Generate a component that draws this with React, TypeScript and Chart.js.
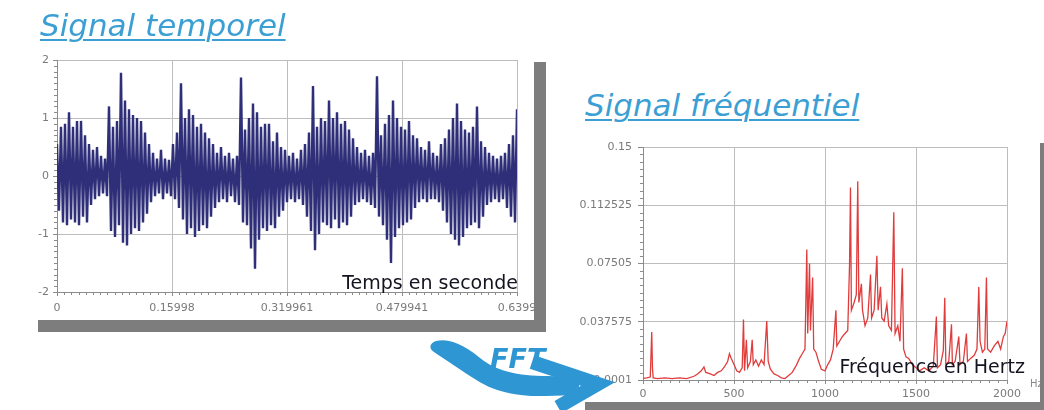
import React, { useEffect, useRef } from "react";
import { Chart, registerables } from "chart.js";

Chart.register(...registerables);

// ---------- Signal temporel (time domain) ----------
const TIME_END = 0.6399;
const timeTicks = [0, 0.15998, 0.319961, 0.479941, 0.6399];
const amplitudeTicks = [-2, -1, 0, 1, 2];
// positive peaks of the oscillation, read left to right
const upperEnvelope = [
  0.55, 0.85, 0.9, 1.1, 0.85, 0.95, 0.95, 0.7, 0.55, 0.45,
  0.5, 0.35, 0.3, 1.2, 0.85, 0.95, 1.78, 1.3, 1.15, 1.05,
  1.0, 0.95, 0.75, 0.55, 0.4, 0.3, 0.45, 0.3, 0.28, 0.55,
  0.75, 1.6, 1.0, 1.15, 1.05, 0.85, 0.9, 0.75, 0.65, 0.55,
  0.4, 0.5, 0.35, 0.4, 0.3, 0.35, 1.7, 0.8, 1.0, 1.25,
  1.1, 0.85, 0.9, 0.9, 0.6, 0.75, 0.5, 0.45, 0.35, 0.4,
  0.3, 0.45, 0.55, 0.75, 1.55, 0.85, 1.0, 0.95, 1.3, 1.0,
  1.1, 0.9, 0.95, 0.8, 0.65, 0.5, 0.4, 0.45, 0.35, 0.4,
  1.72, 0.7, 0.9, 1.05, 1.3, 1.0, 0.85, 0.8, 0.95, 0.7,
  0.65, 0.5, 0.45, 0.6, 0.4, 0.35, 0.55, 0.65, 0.8, 1.0,
  1.25, 0.95, 0.8, 0.75, 0.85, 1.2, 0.6, 0.5, 0.4, 0.35,
  0.3, 0.35, 0.4, 0.55, 0.7, 1.15,
];
// negative peaks of the oscillation, read left to right
const lowerEnvelope = [
  -0.6, -0.8, -0.85, -0.75, -0.8, -0.85, -0.7, -0.8, -0.5, -0.4,
  -0.35, -0.3, -0.35, -0.95, -1.05, -0.85, -1.15, -1.2, -1.0, -0.9,
  -0.95, -0.8, -0.65, -0.45, -0.35, -0.3, -0.4, -0.3, -0.35, -0.4,
  -0.55, -0.75, -1.0, -0.9, -1.05, -0.95, -0.85, -0.9, -0.7, -0.55,
  -0.45, -0.4, -0.45, -0.35, -0.45, -0.5, -0.8, -0.85, -1.25, -1.6,
  -1.1, -0.9, -0.95, -0.85, -0.9, -0.7, -0.6, -0.45, -0.4, -0.45,
  -0.4, -0.5, -0.7, -0.95, -1.28, -1.0, -0.8, -0.85, -0.9, -0.75,
  -0.9, -0.8, -0.85, -0.7, -0.5, -0.45, -0.4, -0.45, -0.5, -0.55,
  -0.7, -0.85, -1.1, -1.5, -1.05, -0.9, -0.85, -0.8, -0.75, -0.55,
  -0.45, -0.4, -0.45, -0.4, -0.4, -0.45, -0.6, -0.8, -1.0, -1.1,
  -1.2, -1.05, -0.9, -0.85, -0.8, -0.9, -0.7, -0.5, -0.45, -0.4,
  -0.45, -0.4, -0.55, -0.7, -0.8, -1.0,
];

// ---------- Signal fréquentiel (spectrum) ----------
const freqTicks = [0, 500, 1000, 1500, 2000];
const spectrumTicks = [0.0001, 0.037575, 0.07505, 0.112525, 0.15];
const freqHz = [
  0, 20, 40, 48, 52, 56, 80, 120, 160, 200,
  240, 280, 300, 320, 335, 345, 370, 390, 410, 430,
  450, 465, 475, 485, 500, 515, 530, 545, 552, 558,
  568, 575, 590, 600, 606, 620, 635, 650, 665, 680,
  688, 700, 720, 740, 760, 780, 800, 820, 840, 860,
  875, 890, 900, 905, 915, 920, 932, 938, 950, 965,
  980, 1000, 1015, 1030, 1045, 1060, 1065, 1080, 1095, 1110,
  1125, 1135, 1140, 1145, 1160, 1172, 1180, 1186, 1200, 1206,
  1220, 1235, 1250, 1256, 1270, 1285, 1292, 1305, 1312, 1325,
  1340, 1350, 1365, 1378, 1385, 1400, 1412, 1425, 1432, 1445,
  1460, 1480, 1500, 1520, 1545, 1570, 1595, 1612, 1618, 1635,
  1650, 1658, 1664, 1680, 1695, 1700, 1715, 1735, 1742, 1760,
  1777, 1783, 1800, 1820, 1835, 1845, 1852, 1865, 1878, 1887,
  1893, 1910, 1930, 1950, 1965, 1980, 1990, 2000,
];
const spectrum = [
  0.0012, 0.0015, 0.002, 0.031, 0.008, 0.0015, 0.001, 0.0015, 0.001, 0.0015,
  0.001, 0.0025, 0.004, 0.006, 0.0085, 0.005, 0.004, 0.003, 0.005, 0.006,
  0.009, 0.012, 0.017, 0.014, 0.01, 0.006, 0.005, 0.008, 0.039, 0.006,
  0.026, 0.008, 0.012, 0.026, 0.01, 0.013, 0.009, 0.013, 0.01, 0.038,
  0.012, 0.007, 0.004, 0.003, 0.0015, 0.001, 0.003, 0.005, 0.009, 0.014,
  0.017, 0.02, 0.084, 0.03, 0.075, 0.032, 0.066, 0.02, 0.018, 0.012,
  0.007, 0.006, 0.01, 0.013, 0.02, 0.045, 0.022, 0.025, 0.028, 0.03,
  0.032, 0.075, 0.124, 0.045, 0.05, 0.055, 0.128, 0.05, 0.062, 0.045,
  0.035, 0.04, 0.068, 0.04, 0.045, 0.08, 0.045, 0.06, 0.04, 0.038,
  0.049, 0.035, 0.032, 0.108, 0.03, 0.035, 0.025, 0.072, 0.02, 0.015,
  0.014, 0.01, 0.008, 0.006, 0.008, 0.006, 0.009, 0.041, 0.008, 0.01,
  0.019, 0.053, 0.01, 0.012, 0.036, 0.01, 0.012, 0.028, 0.01, 0.012,
  0.03, 0.012, 0.014, 0.016, 0.02, 0.06, 0.025, 0.018, 0.02, 0.066,
  0.02, 0.018, 0.022, 0.025, 0.02, 0.028, 0.03, 0.038,
];

const FONT = "'DejaVu Sans', Verdana, sans-serif";
const ARROW_BLUE = "#2e96d3";

function minorTicksPlugin(xDiv: number, yDiv: number) {
  return {
    id: "minorTicks",
    afterDatasetsDraw(chart: any) {
      const { ctx, chartArea, scales } = chart;
      const xs = scales.x;
      const ys = scales.y;
      ctx.save();
      ctx.strokeStyle = "#8c8c8c";
      ctx.lineWidth = 1;
      ctx.beginPath();
      const xt = xs.ticks;
      for (let k = 0; k < xt.length - 1; k++) {
        const a = xs.getPixelForValue(xt[k].value);
        const b = xs.getPixelForValue(xt[k + 1].value);
        for (let j = 1; j < xDiv; j++) {
          const px = Math.round(a + ((b - a) * j) / xDiv) + 0.5;
          ctx.moveTo(px, chartArea.bottom);
          ctx.lineTo(px, chartArea.bottom + 3);
        }
      }
      const yt = ys.ticks;
      for (let k = 0; k < yt.length - 1; k++) {
        const a = ys.getPixelForValue(yt[k].value);
        const b = ys.getPixelForValue(yt[k + 1].value);
        for (let j = 1; j < yDiv; j++) {
          const py = Math.round(a + ((b - a) * j) / yDiv) + 0.5;
          ctx.moveTo(chartArea.left, py);
          ctx.lineTo(chartArea.left - 3, py);
        }
      }
      ctx.stroke();
      ctx.restore();
    },
  };
}

function captionPlugin(
  id: string,
  text: string,
  dx: number,
  dy: number,
  font: string,
  color: string,
  align: CanvasTextAlign
) {
  return {
    id,
    afterDraw(chart: any) {
      const { ctx, chartArea } = chart;
      ctx.save();
      ctx.font = font;
      ctx.fillStyle = color;
      ctx.textAlign = align;
      ctx.textBaseline = "alphabetic";
      ctx.fillText(text, chartArea.right + dx, chartArea.bottom + dy);
      ctx.restore();
    },
  };
}

function axisCommon(tickLength: number, padding: number) {
  return {
    ticks: {
      color: "#7a7a7a",
      font: { family: FONT, size: 11 },
      padding,
      maxRotation: 0,
      autoSkip: false,
      callback: (v: any) => String(v),
    },
    grid: { color: "#bdbdbd", lineWidth: 1, tickLength, tickColor: "#8c8c8c" },
    border: { color: "#8c8c8c", width: 1 },
  };
}

function TimeChart() {
  const ref = useRef<HTMLCanvasElement | null>(null);
  useEffect(() => {
    if (!ref.current) return;
    const step = TIME_END / (upperEnvelope.length - 1);
    const points: { x: number; y: number }[] = [];
    upperEnvelope.forEach((u, i) => {
      points.push({ x: i * step, y: u });
      points.push({ x: (i + 0.5) * step, y: lowerEnvelope[i] });
    });
    const xBase = axisCommon(4, 6);
    const yBase = axisCommon(4, 4);
    const chart = new Chart(ref.current, {
      type: "line",
      data: {
        datasets: [
          {
            data: points,
            borderColor: "#2e2f78",
            borderWidth: 2.4,
            pointRadius: 0,
            tension: 0,
            fill: false,
          },
        ],
      },
      options: {
        animation: false,
        responsive: false,
        maintainAspectRatio: false,
        layout: { padding: { left: 0, right: 17, top: 20, bottom: 0 } },
        plugins: { legend: { display: false }, tooltip: { enabled: false } },
        scales: {
          x: {
            type: "linear",
            min: 0,
            max: TIME_END,
            ...xBase,
            afterBuildTicks: (s: any) => {
              s.ticks = timeTicks.map((v) => ({ value: v }));
            },
            afterFit: (s: any) => {
              s.height = 28;
              s.paddingLeft = 0;
              s.paddingRight = 0;
            },
          },
          y: {
            type: "linear",
            min: -2,
            max: 2,
            ...yBase,
            afterBuildTicks: (s: any) => {
              s.ticks = amplitudeTicks.map((v) => ({ value: v }));
            },
            afterFit: (s: any) => {
              s.width = 57;
              s.paddingTop = 0;
              s.paddingBottom = 0;
            },
          },
        },
      } as any,
      plugins: [
        minorTicksPlugin(16, 10),
        captionPlugin("tempsCaption", "Temps en seconde", 1, -3, `19px ${FONT}`, "#141420", "right"),
      ],
    });
    return () => chart.destroy();
  }, []);
  return <canvas ref={ref} width={534} height={280} style={{ display: "block" }} />;
}

function FreqChart() {
  const ref = useRef<HTMLCanvasElement | null>(null);
  useEffect(() => {
    if (!ref.current) return;
    const points = freqHz.map((f, i) => ({ x: f, y: spectrum[i] }));
    const xBase = axisCommon(4, 4);
    const yBase = axisCommon(5, 6);
    const chart = new Chart(ref.current, {
      type: "line",
      data: {
        datasets: [
          {
            data: points,
            borderColor: "#e03c3c",
            borderWidth: 1.3,
            pointRadius: 0,
            tension: 0,
            fill: false,
          },
        ],
      },
      options: {
        animation: false,
        responsive: false,
        maintainAspectRatio: false,
        layout: { padding: { left: 0, right: 33, top: 17, bottom: 0 } },
        plugins: { legend: { display: false }, tooltip: { enabled: false } },
        scales: {
          x: {
            type: "linear",
            min: 0,
            max: 2000,
            ...xBase,
            afterBuildTicks: (s: any) => {
              s.ticks = freqTicks.map((v) => ({ value: v }));
            },
            afterFit: (s: any) => {
              s.height = 22;
              s.paddingLeft = 0;
              s.paddingRight = 0;
            },
          },
          y: {
            type: "linear",
            min: 0.0001,
            max: 0.15,
            ...yBase,
            afterBuildTicks: (s: any) => {
              s.ticks = spectrumTicks.map((v) => ({ value: v }));
            },
            afterFit: (s: any) => {
              s.width = 83;
              s.paddingTop = 0;
              s.paddingBottom = 0;
            },
          },
        },
      } as any,
      plugins: [
        minorTicksPlugin(10, 8),
        captionPlugin("freqCaption", "Fréquence en Hertz", 18, -7, `19px ${FONT}`, "#141420", "right"),
        captionPlugin("hzCaption", "Hz", 23, 7, `10px ${FONT}`, "#8a8a8a", "left"),
      ],
    });
    return () => chart.destroy();
  }, []);
  return <canvas ref={ref} width={480} height={272} style={{ display: "block" }} />;
}

const abs = (left: number, top: number, extra: React.CSSProperties = {}): React.CSSProperties => ({
  position: "absolute",
  left,
  top,
  ...extra,
});

const titleStyle: React.CSSProperties = {
  fontFamily: FONT,
  fontStyle: "italic",
  fontSize: 31,
  lineHeight: 1,
  color: "#3c9fd4",
  textDecoration: "underline",
  textDecorationThickness: "2px",
  textUnderlineOffset: "3px",
  whiteSpace: "nowrap",
};

export default function App() {
  return (
    <div
      style={{
        position: "absolute",
        left: 0,
        top: 0,
        width: 1044,
        height: 410,
        background: "#ffffff",
        overflow: "hidden",
      }}
    >
      {/* left panel shadow + chart */}
      <div style={abs(38, 62, { width: 508, height: 270, background: "#7d7d7d" })} />
      <div style={abs(0, 40, { width: 534, height: 280, background: "#ffffff" })}>
        <TimeChart />
      </div>
      {/* right panel shadow + chart */}
      <div style={abs(585, 143, { width: 470, height: 280, background: "#7d7d7d" })} />
      <div style={abs(560, 130, { width: 480, height: 272, background: "#ffffff" })}>
        <FreqChart />
      </div>
      {/* titles */}
      <div style={abs(40, 10, titleStyle)}>Signal temporel</div>
      <div style={abs(585, 90, titleStyle)}>Signal fréquentiel</div>
      {/* FFT arrow */}
      <svg style={abs(0, 0)} width={1044} height={410}>
        <path
          d="M 436 341 C 452 337, 468 348, 484 361 C 500 372, 520 376, 548 376 L 580 377 L 578 395 L 546 396 C 516 397, 494 391, 478 381 C 462 371, 446 360, 434 352 C 428 348, 430 343, 436 341 Z"
          fill={ARROW_BLUE}
        />
        <polyline
          points="532,362 598,384 558,407"
          fill="none"
          stroke={ARROW_BLUE}
          strokeWidth={14}
          strokeLinejoin="miter"
        />
      </svg>
      <div
        style={abs(490, 345, {
          fontFamily: FONT,
          fontStyle: "italic",
          fontWeight: "bold",
          fontSize: 27,
          lineHeight: 1,
          color: ARROW_BLUE,
        })}
      >
        FFT
      </div>
    </div>
  );
}
